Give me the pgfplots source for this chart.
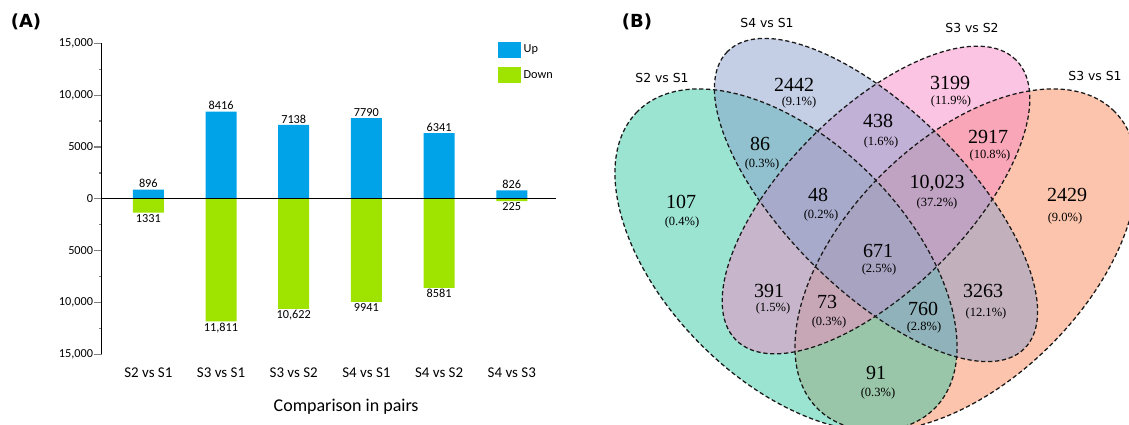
\documentclass[border=0pt]{standalone}
\usepackage{pgfplots}
\pgfplotsset{compat=1.18}
\usepackage{fontspec}
\setmainfont{Carlito}
\newfontfamily\venntimes{Liberation Serif}
\newfontfamily\vennsans{DejaVu Sans}

\definecolor{upblue}{RGB}{0,162,232}
\definecolor{downgreen}{RGB}{158,228,0}
\definecolor{vgreen}{RGB}{55,201,165}
\definecolor{vblue}{RGB}{137,159,205}
\definecolor{vpink}{RGB}{245,137,197}
\definecolor{vorange}{RGB}{249,137,89}

\pgfplotsset{
  bigbox legend/.style={legend image code/.code={\fill[##1] (0pt,-6pt) rectangle (17.25pt,6pt);}},
}

% count + share of one Venn region
\newcommand{\vregion}[6]{%
  \node[font=\venntimes\fontsize{15}{16}\selectfont, inner sep=0pt] at (axis cs:#1,#2) {#3};
  \node[font=\venntimes\fontsize{9.4}{10}\selectfont, inner sep=0pt] at (axis cs:#4,#5) {(#6\%)};
}

\begin{document}
\begin{tikzpicture}
\useasboundingbox (0,0) rectangle (846.75pt,318.75pt);

% ---------- (A) up- and down-regulated genes per comparison ----------
\begin{axis}[
  at={(76.3pt,53.0pt)}, anchor=south west,
  scale only axis, width=340.7pt, height=233.25pt,
  xmin=-0.641, xmax=5.608, ymin=-15000, ymax=15000,
  axis x line*=bottom, axis y line*=left,
  x axis line style={draw=none},
  y axis line style={-, line width=0.9pt},
  xtick={0,...,5},
  xticklabels={S2 vs S1, S3 vs S1, S3 vs S2, S4 vs S1, S4 vs S2, S4 vs S3},
  xtick style={draw=none},
  xticklabel style={font=\fontsize{11.2}{12}\selectfont, yshift=-1pt},
  ytick={-15000,-10000,-5000,0,5000,10000,15000},
  yticklabels={15{,}000,10{,}000,5000,0,5000,10{,}000,15{,}000},
  scaled y ticks=false,
  minor ytick={-12500,-7500,-2500,2500,7500,12500},
  tick align=outside,
  ytick style={line width=0.9pt},
  major tick length=5.5pt, minor tick length=1.75pt,
  yticklabel style={font=\fontsize{9.2}{10}\selectfont, inner xsep=0.75pt},
  /pgf/number format/assume math mode=true,
  xlabel={Comparison in pairs},
  xlabel style={at={(axis description cs:0.538,0)}, anchor=center, yshift=-39.5pt,
    font=\fontsize{13.5}{15}\selectfont},
  ybar, bar width=23.25pt,
  nodes near coords, point meta=explicit symbolic,
  every node near coord/.append style={font=\fontsize{9.2}{10}\selectfont, inner sep=1pt},
  legend style={draw=none, fill=none, at={(axis cs:4.806,15150)}, anchor=north west,
    inner sep=0pt, row sep=7pt, font=\fontsize{9.2}{10}\selectfont,
    /tikz/every even column/.append style={column sep=3pt}},
  legend cell align=left,
]
\addplot[fill=upblue, draw=none, bar shift=0pt, bigbox legend,
  every node near coord/.append style={anchor=south}]
  coordinates {(0,896)[896] (1,8416)[8416] (2,7138)[7138] (3,7790)[7790] (4,6341)[6341] (5,826)[826]};
\addlegendentry{Up}
\addplot[fill=downgreen, draw=none, bar shift=0pt, bigbox legend,
  every node near coord/.append style={anchor=north}]
  coordinates {(0,-1331)[1331] (1,-11811)[11{,}811] (2,-10622)[10{,}622] (3,-9941)[9941] (4,-8581)[8581] (5,-225)[225]};
\addlegendentry{Down}
\draw[line width=0.6pt] (rel axis cs:0,0.5) -- (rel axis cs:1,0.5);
\end{axis}

\node[font=\vennsans\bfseries\fontsize{13.5}{15}\selectfont] at (19.5pt,302.5pt) {(A)};

% ---------- (B) four-set Venn diagram ----------
\begin{axis}[
  at={(435pt,0pt)}, anchor=south west,
  scale only axis, width=411.75pt, height=318.75pt,
  xmin=580, xmax=1129, ymin=0, ymax=425,
  hide axis, clip=false,
]
\fill[vorange, fill opacity=0.5] (axis cs:966,165) ellipse [x radius=157.5pt, y radius=90pt, rotate=45];
\fill[vgreen, fill opacity=0.5] (axis cs:786,165) ellipse [x radius=157.5pt, y radius=90pt, rotate=135];
\fill[vpink, fill opacity=0.5] (axis cs:876,225) ellipse [x radius=148.5pt, y radius=67.5pt, rotate=45];
\fill[vblue, fill opacity=0.5] (axis cs:876,225) ellipse [x radius=157.5pt, y radius=67.5pt, rotate=135];
\begin{scope}[line width=0.95pt, dash pattern=on 3.2pt off 2pt, black!90]
\draw (axis cs:966,165) ellipse [x radius=157.5pt, y radius=90pt, rotate=45];
\draw (axis cs:786,165) ellipse [x radius=157.5pt, y radius=90pt, rotate=135];
\draw (axis cs:876,225) ellipse [x radius=148.5pt, y radius=67.5pt, rotate=45];
\draw (axis cs:876,225) ellipse [x radius=157.5pt, y radius=67.5pt, rotate=135];
\end{scope}

\vregion{794}{340}{2442}{799}{323}{9.1}
\vregion{950}{342}{3199}{951}{324}{11.9}
\vregion{878}{304}{438}{881}{283}{1.6}
\vregion{760}{281}{86}{762}{261}{0.3}
\vregion{988}{288}{2917}{990}{270}{10.8}
\vregion{681}{223}{107}{682}{203}{0.4}
\vregion{818}{230}{48}{821}{210}{0.2}
\vregion{937}{242}{10,023}{937}{222}{37.2}
\vregion{1067}{230}{2429}{1065}{207}{9.0}
\vregion{878}{174}{671}{879}{156}{2.5}
\vregion{769}{134}{391}{773}{117}{1.5}
\vregion{827}{123}{73}{829}{103}{0.3}
\vregion{923}{116}{760}{924}{98}{2.8}
\vregion{983}{134}{3263}{986}{112}{12.1}
\vregion{876}{52}{91}{878}{32}{0.3}

\begin{scope}[font=\vennsans\fontsize{9.3}{11}\selectfont]
\node at (axis cs:767,402) {S4 vs S1};
\node at (axis cs:972,397) {S3 vs S2};
\node at (axis cs:662,347) {S2 vs S1};
\node at (axis cs:1095,349) {S3 vs S1};
\end{scope}
\node[font=\vennsans\bfseries\fontsize{13.5}{15}\selectfont] at (axis cs:637,403) {(B)};
\end{axis}
\end{tikzpicture}
\end{document}
